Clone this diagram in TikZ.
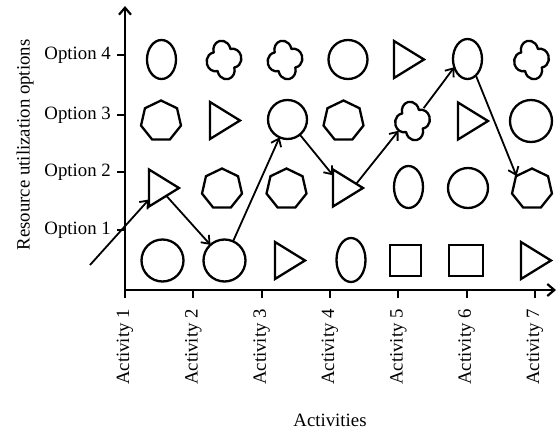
\documentclass[tikz,border=0pt]{standalone}
\usepackage{fontspec}
\setmainfont{Liberation Serif}
\usetikzlibrary{shapes.geometric, arrows.meta}
\tikzset{
  shp/.style={draw, line width=2.3pt, inner sep=0pt, outer sep=0pt},
  circ/.style={shp, circle, minimum size=#1},
  ell/.style={shp, ellipse, minimum width=29pt, minimum height=#1},
  hept/.style={shp, regular polygon, regular polygon sides=7, minimum size=41pt},
  tri/.style={shp, isosceles triangle, isosceles triangle stretches, shape border rotate=0,
              minimum width=37pt, minimum height=30pt, anchor=lower side},
  sq/.style={shp, rectangle, minimum width=#1, minimum height=31pt},
  blobnode/.style={circle, inner sep=0pt, outer sep=0pt, minimum size=34pt},
  blobline/.style={line width=2.3pt, line join=round},
  conn/.style={line width=1.8pt, -{Straight Barb[length=7pt,width=11pt,line width=1.8pt]}},
  axis/.style={line width=2.2pt},
  axarrow/.style={-{Straight Barb[length=7pt,width=12pt,line width=2.2pt]}},
  lab/.style={font=\fontsize{18.8}{20}\selectfont, inner sep=0pt},
}
\newcommand{\myblob}[3]{%
  \node[blobnode] (#1) at (#2,#3) {};
  \draw[blobline, shift={(#1.center)}, rotate=12, xscale=0.9]
    (9.486,-9.486) arc[start angle=-93.1, end angle=93.1, radius=9.5]
                   arc[start angle=-3.1, end angle=183.1, radius=9.5]
                   arc[start angle=86.9, end angle=273.1, radius=9.5]
                   arc[start angle=176.9, end angle=363.1, radius=9.5] -- cycle;
}
\begin{document}
\begin{tikzpicture}[x=1pt, y=-1pt]
\useasboundingbox (0,0) rectangle (558,429);

% axes
\draw[axis, axarrow] (125,298) -- (125,6);
\draw[axis, axarrow] (125,290) -- (556,290);
\foreach \i in {2,...,7} {
  \draw[axis] ({125+68.33*(\i-1)},290) -- ({125+68.33*(\i-1)},298);
  \node[lab, rotate=90, anchor=east] (act\i) at ({125+68.33*(\i-1)},309) {Activity \i};
}
\node[lab, rotate=90, anchor=east] (act1) at (125,309) {Activity 1};
\foreach \y/\n in {55/4,115/3,172/2,230/1} {
  \draw[axis] (117,\y) -- (125,\y);
  \node[lab, anchor=east] (opt\n) at (111,\y) {Option \n};
}
\node[lab, rotate=90] (ylab) at (25,145) {Resource utilization options};
\node[lab] (xlab) at (330,420) {Activities};

% row 4 (Option 4)
\node[ell=39pt] (r4c1) at (161.5,59.5) {};
\myblob{r4c2}{224}{60}
\myblob{r4c3}{285}{60}
\node[circ=39pt] (r4c4) at (348,59.5) {};
\node[tri] (r4c5) at (394,59.5) {};
\node[ell=40pt] (r4c6) at (467.5,59) {};
\myblob{r4c7}{531.5}{60}

% row 3
\node[hept] (r3c1) at (161,121) {};
\node[tri] (r3c2) at (210,120.5) {};
\node[circ=39pt] (r3c3) at (287.5,119.5) {};
\node[hept] (r3c4) at (343.5,121) {};
\myblob{r3c5}{412.5}{121}
\node[tri] (r3c6) at (458,121) {};
\node[circ=42pt] (r3c7) at (531,121) {};

% row 2
\node[tri] (r2c1) at (149,188) {};
\node[hept] (r2c2) at (222,189) {};
\node[hept] (r2c3) at (286.5,189) {};
\node[tri] (r2c4) at (333,188) {};
\node[ell=42pt] (r2c5) at (408.5,187) {};
\node[circ=40pt] (r2c6) at (468,188) {};
\node[hept] (r2c7) at (532,189) {};

% row 1
\node[circ=42pt] (r1c1) at (162.5,260.5) {};
\node[circ=42pt] (r1c2) at (224.5,260.5) {};
\node[tri] (r1c3) at (275,260.5) {};
\node[ell=44pt] (r1c4) at (351,260) {};
\node[sq=31pt] (r1c5) at (405.5,260.5) {};
\node[sq=34pt] (r1c6) at (466,260.5) {};
\node[tri] (r1c7) at (521,260.5) {};

% path
\coordinate (s0) at (90,265);
\draw[conn] (s0) -- (r2c1);
\draw[conn] (r2c1) -- (r1c2);
\draw[conn] (r1c2) -- (r3c3);
\draw[conn] (r3c3) -- (r2c4);
\draw[conn] (r2c4.18) -- (r3c5.215);
\draw[conn] (r3c5.49) -- (r4c6.212);
\draw[conn] (r4c6.-63) -- (r2c7.140);
\end{tikzpicture}
\end{document}
